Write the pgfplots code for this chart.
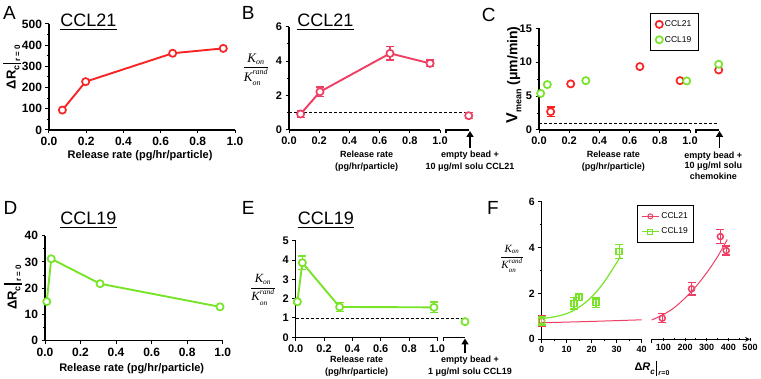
\documentclass[border=0pt]{standalone}
\usepackage{pgfplots}
\pgfplotsset{compat=1.18}
\usepackage{fontspec}
\setmainfont{Liberation Sans}
\newfontfamily\tnr{Liberation Serif}
\usetikzlibrary{arrows.meta}
\newcommand\fs[1]{\fontsize{#1}{#1}\selectfont}
\definecolor{rA}{RGB}{250,35,35}
\definecolor{rB}{RGB}{238,62,98}
\definecolor{gr}{RGB}{120,228,40}
\newcommand\Kf[2]{\(\displaystyle\frac{\mbox{\tnr\itshape\fs{#1}K}_{\mbox{\tnr\itshape\fs{#2}on}}}{\mbox{\tnr\itshape\fs{#1}K}^{\raisebox{1.5pt}{\tnr\itshape\fs{#2}rand}}_{\raisebox{-1.5pt}{\tnr\itshape\fs{#2}on}}}\)}
\newcommand\dR{\bfseries\fs{13}ΔR\raisebox{-0.3em}{\fs{9}c}\kern1.5pt\rule[-0.4em]{1.2pt}{1.35em}\kern1.5pt\raisebox{-0.35em}{\fs{8}r = 0}}
\newcommand\dRi{\bfseries\fs{11}Δ\textit{R}\raisebox{-0.3em}{\fs{8}\textit{c}}\kern1.5pt\rule[-0.45em]{1.1pt}{1.35em}\kern1pt\raisebox{-0.4em}{\fs{7}\textit{r}=0}}
\newcommand\ttl[2]{\node[font=\fs{18}, inner sep=0pt, anchor=base] (tt) at (#1) {#2};
  \draw[line width=1.3pt] ([yshift=-2.5pt]tt.base west) -- ([yshift=-2.5pt]tt.base east);}
\pgfplotsset{
  prism/.style={scale only axis, axis lines=left, axis line style={line width=1.2pt,-},
    enlargelimits=false, clip=false, tick align=outside,
    major tick length=3.5pt, minor tick length=2pt,
    every tick/.style={black,line width=1pt},
    tick label style={font=\bfseries\boldmath\fs{12}},
    /pgf/number format/assume math mode=true,
    xticklabel={\textbf{\pgfmathprintnumber{\tick}}},
    yticklabel={\textbf{\pgfmathprintnumber{\tick}}}},
  dec/.style={xticklabel style={/pgf/number format/.cd,fixed,fixed zerofill,precision=1}},
  cir/.style={mark=*, mark size=3.6pt, line width=1.9pt, mark options={fill=white, line width=1.7pt}},
  eb/.style={error bars/y dir=both, error bars/y explicit,
    error bars/error bar style={line width=1.3pt},
    error bars/error mark options={line width=1.3pt, mark size=4pt, rotate=90}},
  dsh/.style={black, line width=0.8pt, dash pattern=on 3pt off 2pt},
}
\begin{document}
\begin{tikzpicture}[x=1pt,y=1pt]
\useasboundingbox (0,0) rectangle (761,379);
% ---------------- A
\begin{axis}[prism, dec, at={(49pt,249pt)}, anchor=south west, width=186pt, height=106pt,
  xmin=0,xmax=1,ymin=0,ymax=500, xtick={0,0.2,0.4,0.6,0.8,1}, ytick={0,100,200,300,400,500}, minor y tick num=1]
\addplot[rA, cir] coordinates {(0.072,94)(0.197,228)(0.665,362)(0.937,385)};
\end{axis}
% ---------------- B
\begin{axis}[prism, dec, at={(289pt,249pt)}, anchor=south west, width=181.2pt, height=103.3pt,
  xmin=0,xmax=1.2,ymin=0,ymax=6, xtick={0,0.2,0.4,0.6,0.8,1}, ytick={0,2,4,6}, minor y tick num=1,
  x axis line style={draw=none}, tick label style={font=\bfseries\boldmath\fs{11}}]
\draw[line width=1.2pt] (axis cs:0,0) -- (axis cs:1,0);
\draw[line width=1.2pt] ([yshift=-3.5pt]axis cs:1.04,0) -- (axis cs:1.04,0) -- (axis cs:1.195,0);
\addplot[dsh] coordinates {(0,1)(1.16,1)};
\addplot[rB, cir, eb] coordinates {(0.077,0.93)+-(0,0.22) (0.205,2.22)+-(0,0.27) (0.669,4.45)+-(0,0.38) (0.934,3.87)+-(0,0.2)};
\addplot[rB, cir, eb] coordinates {(1.19,0.83)+-(0,0.17)};
\end{axis}
% ---------------- C
\begin{axis}[prism, dec, at={(539pt,249pt)}, anchor=south west, width=181.2pt, height=101.7pt,
  xmin=0,xmax=1.2,ymin=0,ymax=15, xtick={0,0.2,0.4,0.6,0.8,1}, ytick={0,5,10,15}, minor y tick num=1,
  x axis line style={draw=none}, tick label style={font=\bfseries\boldmath\fs{11}},
  legend cell align=left,
  legend style={at={(0.613,1.15)}, anchor=north west, draw=black, line width=1.2pt, font=\fs{8.5},
    inner xsep=5pt, inner ysep=5pt, row sep=4pt}]
\draw[line width=1.2pt] (axis cs:0,0) -- (axis cs:1,0);
\draw[line width=1.2pt] ([yshift=-3.5pt]axis cs:1.04,0) -- (axis cs:1.04,0) -- (axis cs:1.195,0);
\addplot[dsh, forget plot] coordinates {(0,1)(1.187,1)};
\addplot[rA, only marks, mark=*, mark size=3.6pt, mark options={fill=white, line width=1.7pt}]
  coordinates {(0.21,6.8)(0.668,9.35)(0.934,7.28)(1.19,8.85)};
\addlegendentry{CCL21}
\addplot[gr, only marks, mark=*, mark size=3.6pt, mark options={fill=white, line width=1.7pt}]
  coordinates {(0.011,5.4)(0.055,6.7)(0.31,7.28)(0.978,7.23)(1.19,9.7)};
\addlegendentry{CCL19}
\addplot[rA, only marks, mark=*, mark size=3.6pt, mark options={fill=white, line width=1.7pt}, eb, forget plot]
  coordinates {(0.077,2.7)+-(0,0.7)};
\end{axis}
% ---------------- D
\begin{axis}[prism, dec, at={(45pt,38.3pt)}, anchor=south west, width=177.7pt, height=105pt,
  xmin=0,xmax=1,ymin=0,ymax=40, xtick={0,0.2,0.4,0.6,0.8,1}, ytick={0,10,20,30,40}, minor y tick num=1]
\addplot[gr, cir] coordinates {(0.01,14.9)(0.035,31.2)(0.31,21.7)(0.985,12.9)};
\end{axis}
% ---------------- E
\begin{axis}[prism, dec, at={(295.7pt,41.7pt)}, anchor=south west, width=170pt, height=96.6pt,
  xmin=0,xmax=1.2,ymin=0,ymax=5, xtick={0,0.2,0.4,0.6,0.8,1}, ytick={0,1,2,3,4,5},
  x axis line style={draw=none}, tick label style={font=\bfseries\boldmath\fs{11}}]
\draw[line width=1.2pt] (axis cs:0,0) -- (axis cs:1,0);
\draw[line width=1.2pt] ([yshift=-3.5pt]axis cs:1.042,0) -- (axis cs:1.042,0) -- (axis cs:1.195,0);
\addplot[dsh] coordinates {(0,1)(1.18,1)};
\addplot[gr, cir, eb] coordinates {(0.012,1.84)+-(0,0.08) (0.047,3.86)+-(0,0.35) (0.31,1.57)+-(0,0.22) (0.976,1.55)+-(0,0.28)};
\addplot[gr, cir] coordinates {(1.195,0.81)};
\end{axis}
% ---------------- F left
\begin{axis}[prism, at={(541.7pt,39.7pt)}, anchor=south west, width=100pt, height=137.6pt,
  xmin=0,xmax=40,ymin=0,ymax=6, xtick={0,10,20,30,40}, ytick={0,2,4,6}, minor y tick num=1, minor x tick num=1,
  xticklabel style={font=\bfseries\boldmath\fs{9}}, yticklabel style={font=\bfseries\boldmath\fs{10.5}},
  legend cell align=left,
  legend style={at={(0.95,0.976)}, anchor=north west, draw=black, line width=1.2pt, font=\fs{8.5},
    inner xsep=4pt, inner ysep=5pt, row sep=4pt}]
\addlegendimage{rB, line width=1pt, mark=o, mark size=2.5pt, mark options={line width=1pt}}
\addlegendentry{CCL21}
\addlegendimage{gr, line width=1pt, mark=square, mark size=2.5pt, mark options={line width=1pt}}
\addlegendentry{CCL19}
\addplot[rB, line width=1pt, smooth] coordinates {(0,0.72)(20,0.78)(40,0.85)};
\addplot[gr, line width=1.2pt, smooth] coordinates {(0,0.9)(5,0.98)(10,1.12)(15,1.4)(20,1.85)(25,2.5)(31.5,3.6)};
\addplot[rB, only marks, mark=o, mark size=3pt, mark options={line width=1.5pt}, eb] coordinates {(0,0.8)+-(0,0.22)};
\addplot[gr, only marks, mark=square, mark size=3pt, mark options={line width=1.5pt}, eb]
  coordinates {(0,0.8)+-(0,0.18) (12.9,1.57)+-(0,0.25) (14.9,1.83)+-(0,0.15) (21.7,1.6)+-(0,0.2) (31,3.82)+-(0,0.3)};
\end{axis}
% ---------------- F right
\begin{axis}[prism, at={(651.7pt,39.7pt)}, anchor=south west, width=98.3pt, height=137.6pt,
  xmin=46,xmax=500,ymin=0,ymax=6, axis y line=none, axis x line=bottom,
  xtick={100,200,300,400,500}, minor x tick num=1,
  xticklabel style={font=\bfseries\boldmath\fs{9}}]
\draw[line width=1.2pt] ([yshift=-3.5pt]axis cs:46,0) -- (axis cs:46,0);
\addplot[rB, line width=1pt, smooth] coordinates {(46,0.84)(100,1.08)(150,1.38)(200,1.8)(250,2.3)(300,2.9)(350,3.6)(395,4.35)};
\addplot[rB, only marks, mark=o, mark size=3pt, mark options={line width=1.5pt}, eb]
  coordinates {(95,0.92)+-(0,0.2) (230,2.2)+-(0,0.27) (363,4.48)+-(0,0.3) (390,3.87)+-(0,0.2)};
\end{axis}
% ---------------- text
\foreach \l/\x/\y in {A/3/359, B/241.7/359, C/481.7/357.3, D/3.3/164, E/241.7/164, F/487/164}
  \node[font=\fs{19}, anchor=base west, inner sep=0pt] at (\x,\y) {\l};
\ttl{88.5,352.3}{CCL21}
\ttl{325.5,352.3}{CCL21}
\ttl{88.5,154}{CCL19}
\ttl{325.8,154}{CCL19}
\node[rotate=90] at (12,312) {\dR};
\node[rotate=90] at (13,91.5) {\dR};
\node[rotate=90, font=\bfseries] at (514,304) {\fs{16}V\raisebox{-0.25em}{\fs{9}mean}\fs{14} (μm/min)};
\node[font=\fs{12}] at (256,309) {\Kf{13}{8}};
\node[font=\fs{12}] at (263,89) {\Kf{12.5}{7.5}};
\node[font=\fs{11}] at (512,120) {\Kf{11}{7}};
\node[font=\bfseries\fs{11}] at (140,223) {Release rate (pg/hr/particle)};
\node[font=\bfseries\fs{11}] at (131.7,10.7) {Release rate (pg/hr/particle)};
\node[font=\bfseries\fontsize{9}{11.5}\selectfont, align=center] at (366.7,218) {Release rate\\(pg/hr/particle)};
\node[font=\bfseries\fontsize{9}{11.5}\selectfont, align=center] at (470,218) {empty bead +\\10 μg/ml solu CCL21};
\node[font=\bfseries\fontsize{9}{11.5}\selectfont, align=center] at (613.3,218) {Release rate\\(pg/hr/particle)};
\node[font=\bfseries\fontsize{9}{10.5}\selectfont, align=center] at (713.3,213.5) {empty bead +\\10 μg/ml solu\\chemokine};
\node[font=\bfseries\fontsize{9}{11.5}\selectfont, align=center] at (356.7,13) {Release rate\\(pg/hr/particle)};
\node[font=\bfseries\fontsize{9}{11.5}\selectfont, align=center] at (470,13) {empty bead +\\1 μg/ml solu CCL19};
\node at (652,10.7) {\dRi};
\draw[line width=1.8pt, -{Triangle[length=6pt,width=7pt]}] (470,231) -- (470,248);
\draw[line width=1.8pt, -{Triangle[length=6pt,width=7pt]}] (719.5,231) -- (719.5,248);
\draw[line width=1.8pt, -{Triangle[length=6pt,width=7pt]}] (465,25.7) -- (465,40.5);
\end{tikzpicture}
\end{document}
